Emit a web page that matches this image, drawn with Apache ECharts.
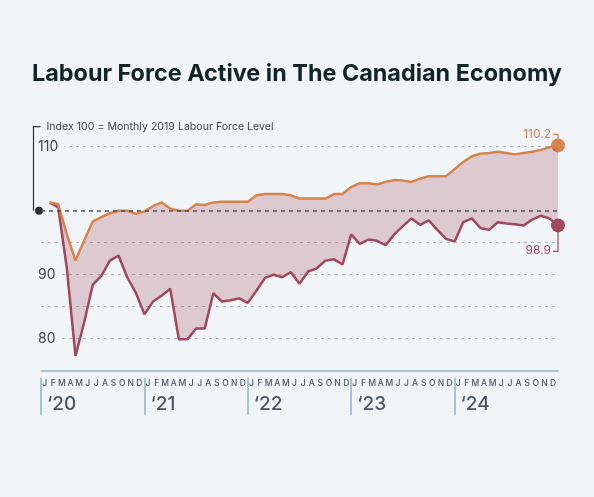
<!DOCTYPE html>
<html>
<head>
<meta charset="utf-8">
<title>Labour Force Active in The Canadian Economy</title>
<script src="https://cdn.jsdelivr.net/npm/echarts@6/dist/echarts.min.js"></script>
<style>
  html, body { margin: 0; padding: 0; background: #f1f5f8; }
  #chart { width: 594px; height: 497px; }
</style>
</head>
<body>
<div id="chart"></div>
<script>
// monthly index values, Jan 2020 .. Dec 2024
var monthLetters = ['J', 'F', 'M', 'A', 'M', 'J', 'J', 'A', 'S', 'O', 'N', 'D'];
var yearLabels = ['\u201820', '\u201821', '\u201822', '\u201823', '\u201824'];
var yTickLabels = [80, 90, 110];
var baseValue = 100;
var noteText = 'Index 100 = Monthly 2019 Labour Force Level';
var endLabels = ['110.2', '98.9'];

var upperIndex = [
  101.3, 101.0, 96.3, 92.2, 95.3, 98.3, 99.0, 99.6, 100.0, 100.0, 99.5, 99.9,
  100.7, 101.3, 100.3, 100.0, 100.0, 101.0, 100.9, 101.3, 101.4, 101.4, 101.4, 101.4,
  102.4, 102.6, 102.6, 102.6, 102.4, 101.9, 101.9, 101.9, 101.9, 102.6, 102.6, 103.7,
  104.3, 104.3, 104.1, 104.5, 104.8, 104.7, 104.5, 105.0, 105.4, 105.4, 105.4, 106.5,
  107.6, 108.5, 108.9, 109.0, 109.2, 109.0, 108.8, 109.0, 109.2, 109.5, 109.9, 110.2
];
var lowerIndex = [
  101.3, 100.5, 91.0, 77.3, 82.5, 88.4, 89.8, 92.2, 93.0, 89.6, 87.2, 83.8,
  85.8, 86.7, 87.8, 79.9, 79.9, 81.6, 81.6, 87.1, 85.8, 86.0, 86.3, 85.6,
  87.5, 89.5, 90.0, 89.6, 90.4, 88.6, 90.5, 91.0, 92.2, 92.4, 91.6, 96.3,
  94.8, 95.5, 95.3, 94.6, 96.3, 97.6, 98.8, 97.8, 98.5, 97.0, 95.6, 95.2,
  98.2, 98.8, 97.3, 97.0, 98.2, 98.0, 97.9, 97.7, 98.6, 99.2, 98.8, 97.7
];

var upperColor = '#d6834c';
var lowerColor = '#a1475b';
var axisBlue = '#8fb0cc';
var textGrey = '#3d454d';

// slot 0 is Dec 2019, it only carries the first year divider
var categories = ['2019-12'];
yearLabels.forEach(function (y, yi) {
  monthLetters.forEach(function (m, mi) {
    categories.push((2020 + yi) + '-' + (mi + 1));
  });
});

function pad(arr) {
  return ['-'].concat(arr);
}

var bandDiff = upperIndex.map(function (v, i) {
  return +(v - lowerIndex[i]).toFixed(2);
});
var last = categories.length - 1;

var myChart = echarts.init(document.getElementById('chart'));

var option = {
  backgroundColor: '#f1f5f8',
  animation: false,
  title: {
    text: 'Labour Force Active in The Canadian Economy',
    left: 'center',
    top: 57,
    textStyle: {
      fontFamily: 'Inter',
      fontSize: 23.4,
      fontWeight: 700,
      color: '#10242a'
    }
  },
  grid: {
    left: 41,
    right: 36,
    top: 146.7,
    bottom: 126.3
  },
  xAxis: [
    {
      type: 'category',
      data: categories,
      boundaryGap: false,
      axisLine: { lineStyle: { color: axisBlue, width: 1.5 } },
      axisTick: { show: false },
      axisLabel: {
        interval: 0,
        margin: 8,
        padding: [0, 10, 0, 0],
        fontFamily: 'Inter',
        fontSize: 8.5,
        fontWeight: 500,
        color: '#4d5660',
        formatter: function (value, index) {
          if (index === 0) return '';
          return monthLetters[(index - 1) % 12];
        }
      },
      splitLine: { show: false }
    },
    {
      type: 'category',
      data: categories,
      boundaryGap: false,
      position: 'bottom',
      offset: 7,
      axisLine: { show: false },
      axisTick: {
        show: true,
        length: 37,
        interval: function (index) {
          return index % 12 === 0 && index < last;
        },
        lineStyle: { color: axisBlue, width: 1.5 }
      },
      axisLabel: {
        interval: function (index) {
          return index % 12 === 0 && index < last;
        },
        margin: 17,
        align: 'left',
        padding: [0, 0, 0, 6],
        fontFamily: 'Inter',
        fontSize: 19,
        fontWeight: 500,
        color: '#4a5662',
        formatter: function (value, index) {
          return yearLabels[index / 12] || '';
        }
      }
    }
  ],
  yAxis: {
    type: 'value',
    min: 75,
    max: 110,
    interval: 5,
    axisLine: { show: false },
    axisTick: { show: false },
    axisLabel: {
      inside: true,
      margin: -3,
      formatter: function (v) {
        return yTickLabels.indexOf(v) >= 0 ? '{n|' + v + '}' : '';
      },
      rich: {
        n: {
          fontFamily: 'Inter',
          fontSize: 14,
          color: textGrey,
          backgroundColor: '#f1f5f8',
          padding: [2, 6, 2, 0]
        }
      }
    },
    splitLine: {
      show: true,
      lineStyle: {
        // 75, 80, 85, 90, 95, 100, 105, 110
        color: ['rgba(0,0,0,0)', '#b3b8bd', '#b3b8bd', '#b3b8bd', '#b3b8bd',
          'rgba(0,0,0,0)', 'rgba(0,0,0,0)', '#b3b8bd'],
        type: [3, 4],
        width: 1
      }
    }
  },
  series: [
    {
      name: 'base',
      type: 'line',
      data: pad(lowerIndex),
      stack: 'band',
      stackStrategy: 'all',
      symbol: 'none',
      lineStyle: { opacity: 0 },
      silent: true
    },
    {
      name: 'band',
      type: 'line',
      data: pad(bandDiff),
      stack: 'band',
      stackStrategy: 'all',
      symbol: 'none',
      clip: false,
      lineStyle: { opacity: 0 },
      areaStyle: { color: 'rgba(158,66,84,0.34)' },
      silent: true,
      markLine: {
        silent: true,
        symbol: 'none',
        label: { show: false },
        lineStyle: { color: '#4a4f55', type: [4, 4], width: 1.5 },
        data: [{ yAxis: baseValue }]
      }
    },
    {
      name: 'lower',
      type: 'line',
      data: pad(lowerIndex),
      symbol: 'none',
      clip: false,
      lineStyle: { color: lowerColor, width: 2.5 }
    },
    {
      name: 'upper',
      type: 'line',
      data: pad(upperIndex),
      symbol: 'none',
      clip: false,
      lineStyle: { color: upperColor, width: 2.5 }
    }
  ]
};
myChart.setOption(option);

// annotations placed from the chart's own scales
var basePt = myChart.convertToPixel({ gridIndex: 0 }, [0, baseValue]);
var topPt = myChart.convertToPixel({ gridIndex: 0 }, [last, upperIndex[upperIndex.length - 1]]);
var lowPt = myChart.convertToPixel({ gridIndex: 0 }, [last, lowerIndex[lowerIndex.length - 1]]);
var noteY = basePt[1] - 84;
var bx = basePt[0] - 7.5;

myChart.setOption({
  graphic: [
    {
      type: 'polyline',
      shape: { points: [[bx, basePt[1]], [bx, noteY], [bx + 7, noteY]] },
      style: { stroke: '#2b3038', lineWidth: 1.2, fill: null }
    },
    {
      type: 'circle',
      shape: { cx: basePt[0] - 2, cy: basePt[1], r: 4 },
      style: { fill: '#2b3038' }
    },
    {
      type: 'text',
      x: bx + 13,
      y: noteY,
      style: {
        text: noteText,
        fontFamily: 'Inter',
        fontSize: 10.6,
        fill: textGrey,
        verticalAlign: 'middle'
      }
    },
    {
      type: 'circle',
      shape: { cx: topPt[0], cy: topPt[1], r: 7 },
      style: { fill: '#d8844c' }
    },
    {
      type: 'circle',
      shape: { cx: lowPt[0], cy: lowPt[1], r: 7 },
      style: { fill: '#a24a5c' }
    },
    {
      type: 'polyline',
      shape: { points: [[topPt[0] - 5, topPt[1] - 11], [topPt[0], topPt[1] - 11], [topPt[0], topPt[1] - 6]] },
      style: { stroke: upperColor, lineWidth: 1.2, fill: null }
    },
    {
      type: 'text',
      x: topPt[0] - 7,
      y: topPt[1] - 11,
      style: {
        text: endLabels[0],
        fontFamily: 'Inter',
        fontSize: 12,
        fill: upperColor,
        align: 'right',
        verticalAlign: 'middle'
      }
    },
    {
      type: 'polyline',
      shape: { points: [[lowPt[0], lowPt[1] + 6], [lowPt[0], lowPt[1] + 26], [lowPt[0] - 5, lowPt[1] + 26]] },
      style: { stroke: lowerColor, lineWidth: 1.2, fill: null }
    },
    {
      type: 'text',
      x: lowPt[0] - 7,
      y: lowPt[1] + 25,
      style: {
        text: endLabels[1],
        fontFamily: 'Inter',
        fontSize: 12,
        fill: lowerColor,
        align: 'right',
        verticalAlign: 'middle'
      }
    }
  ]
});
</script>
</body>
</html>
